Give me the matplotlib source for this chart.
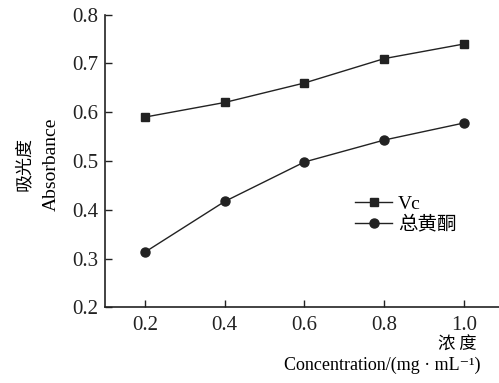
import matplotlib.pyplot as plt

plt.rcParams['font.family'] = ['Liberation Serif', 'Noto Sans CJK SC', 'DejaVu Serif']

conc = [0.2, 0.4, 0.6, 0.8, 1.0]
vc = [0.59, 0.62, 0.66, 0.71, 0.74]
flavonoid = [0.313, 0.417, 0.498, 0.543, 0.578]
xticks = [0.2, 0.4, 0.6, 0.8, 1.0]
xtick_labels = ['0.2', '0.4', '0.6', '0.8', '1.0']
yticks = [0.2, 0.3, 0.4, 0.5, 0.6, 0.7, 0.8]

fig = plt.figure(figsize=(4.99, 3.83), dpi=100)
ax = fig.add_axes([0.2104, 0.1977, 0.7896, 0.7639])

ax.plot(conc, vc, color='#222222', lw=1.0, marker='s', ms=5.8, label='Vc')
ax.plot(conc, flavonoid, color='#222222', lw=1.0, marker='o', ms=6.5, label='总黄酮')

ax.set_xlim(0.1, 1.0875)
ax.set_ylim(0.2, 0.8)
ax.set_xticks(xticks)
ax.set_xticklabels(xtick_labels)
ax.set_yticks(yticks)
ax.tick_params(direction='in', length=5, width=1, labelsize=15, colors='#222222')
ax.tick_params(axis='x', pad=6)
ax.tick_params(axis='y', pad=5)
ax.spines['top'].set_visible(False)
ax.spines['right'].set_visible(False)
for s in ['left', 'bottom']:
    ax.spines[s].set_linewidth(1.2)
    ax.spines[s].set_color('#222222')

ax.legend(loc='center left', bbox_to_anchor=(0.712, 0.44),
          bbox_transform=fig.transFigure, frameon=False,
          fontsize=14, handlelength=1.9, handletextpad=0.3, labelspacing=0.15,
          borderpad=0, borderaxespad=0)

fig.text(0.048, 0.572, '吸光度', rotation=90, ha='center', va='center',
         fontsize=13, family=['Noto Sans CJK SC'])
fig.text(0.102, 0.572, 'Absorbance', rotation=90, ha='center', va='center',
         fontsize=14)
fig.text(0.956, 0.099, '浓 度', ha='right', va='center', fontsize=12.5,
         family=['Noto Sans CJK SC'])
fig.text(0.962, 0.045, 'Concentration/(mg · mL⁻¹)', ha='right',
         va='center', fontsize=13)

fig.savefig('out.png', dpi=100)
